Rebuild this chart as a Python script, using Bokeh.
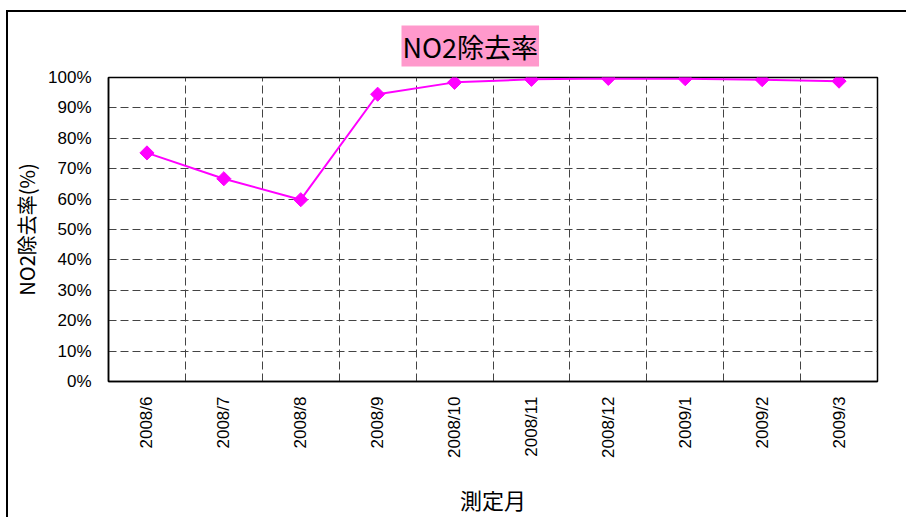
import math
from bokeh.plotting import figure
from bokeh.models import FixedTicker, NumeralTickFormatter, Range1d, ColumnDataSource
from bokeh.embed import file_html
from bokeh.resources import INLINE

months = ["2008/6", "2008/7", "2008/8", "2008/9", "2008/10", "2008/11",
          "2008/12", "2009/1", "2009/2", "2009/3"]
removal = [0.752, 0.667, 0.598, 0.945, 0.984, 0.994, 0.997, 0.996, 0.993, 0.988]
y_ticks = [0.0, 0.1, 0.2, 0.3, 0.4, 0.5, 0.6, 0.7, 0.8, 0.9, 1.0]
title_text = "NO2除去率"

idx = list(range(len(months)))
src = ColumnDataSource(data=dict(x=idx, y=removal))

p = figure(width=900, height=507, output_backend="svg", toolbar_location=None,
           x_range=Range1d(-0.5, len(months) - 0.5), y_range=Range1d(0, 1),
           min_border_left=100, min_border_right=31, min_border_top=65,
           min_border_bottom=138)

p.title.text = title_text
p.title.align = "left"
p.title.offset = 293
p.title.text_font = "Noto Sans CJK JP"
p.title.text_font_size = "27px"
p.title.text_font_style = "normal"
p.title.text_color = "black"
p.title.background_fill_color = "#FF99CC"
p.title.standoff = 22
if "padding" in p.title.properties():
    try:
        p.title.padding = dict(x=1, y=1)
    except Exception:
        p.title.padding = 2

p.line("x", "y", source=src, line_color="#FF00FF", line_width=2)
p.scatter("x", "y", source=src, marker="square", angle=math.pi / 4, size=10,
          fill_color="#FF00FF", line_color="#FF00FF")

p.xaxis.ticker = FixedTicker(ticks=idx)
p.xaxis.major_label_overrides = {i: m for i, m in zip(idx, months)}
p.xaxis.major_label_orientation = math.pi / 2
p.xaxis.axis_label = "測定月"
p.yaxis.ticker = FixedTicker(ticks=y_ticks)
p.yaxis.formatter = NumeralTickFormatter(format="0%")
p.yaxis.axis_label = "NO2除去率(%)"

for ax in (p.xaxis, p.yaxis):
    ax.major_tick_line_color = None
    ax.minor_tick_line_color = None
    ax.major_tick_out = 0
    ax.major_tick_in = 0
    ax.axis_line_color = "black"
    ax.axis_line_width = 1.5
    ax.major_label_text_font = "Liberation Sans"
    ax.major_label_text_font_size = "17px"
    ax.major_label_text_color = "black"
    ax.axis_label_text_font = "Noto Sans CJK JP"
    ax.axis_label_text_font_style = "normal"
    ax.axis_label_text_color = "black"

p.yaxis.axis_label_text_font_size = "20px"
p.xaxis.axis_label_text_font_size = "22px"
p.yaxis.major_label_standoff = 17
p.yaxis.axis_label_standoff = 4
p.xaxis.major_label_standoff = 15
p.xaxis.axis_label_standoff = 22

p.xgrid.ticker = FixedTicker(ticks=[i + 0.5 for i in idx[:-1]])
p.ygrid.ticker = FixedTicker(ticks=y_ticks[1:-1])
for g in (p.xgrid, p.ygrid):
    g.grid_line_color = "#444444"
    g.grid_line_width = 1
    g.grid_line_dash = "8 4"

p.outline_line_color = "black"
p.outline_line_width = 1.5
p.background_fill_color = "white"
p.border_fill_color = "white"
p.styles = {"border-left": "2px solid black", "border-top": "2px solid black",
            "margin-left": "6px", "margin-top": "10px"}

open("out.html", "w").write(file_html(p, INLINE))
